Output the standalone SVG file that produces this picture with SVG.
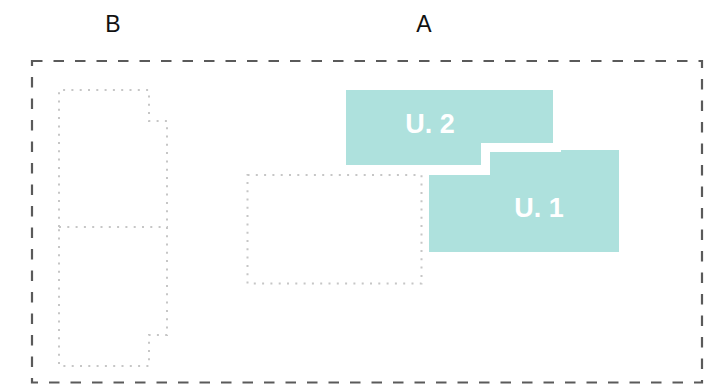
<svg xmlns="http://www.w3.org/2000/svg" width="723" height="385" viewBox="0 0 723 385">
  <style>
    .label { font-family: "Liberation Sans", Arial, sans-serif; font-size: 23px; fill: #111; }
    .unit { fill: #aee1dd; }
    .unit-text { font-family: "Liberation Sans", Arial, sans-serif; font-size: 27px; font-weight: bold; fill: #ffffff; }
    .plot { fill: none; stroke: #5a5a5a; stroke-width: 2.2; stroke-dasharray: 10.5 11; }
    .room { fill: none; stroke: #c6c6c6; stroke-width: 2; stroke-dasharray: 2 6.3; }
  </style>

  <!-- column labels -->
  <text class="label" x="113" y="32" text-anchor="middle">B</text>
  <text class="label" x="424" y="32" text-anchor="middle">A</text>

  <!-- plot boundary -->
  <g id="plot">
    <rect class="plot" x="32" y="61" width="670" height="321.5"/>
  </g>

  <!-- section B rooms -->
  <g id="room-b-upper">
    <polyline class="room" points="59,227 59,90 149,90 149,121 167,121 167,227"/>
  </g>
  <g id="room-b-lower">
    <polyline class="room" points="59,227 167,227 167,335 149,335 149,366 59,366 59,227"/>
  </g>

  <!-- section A empty room -->
  <g id="room-a">
    <rect class="room" x="247.5" y="175" width="174" height="108.5"/>
  </g>

  <!-- units -->
  <g id="unit-2">
    <polygon class="unit" points="346,90 553,90 553,143 481,143 481,165 346,165"/>
    <text class="unit-text" x="430" y="133" text-anchor="middle">U. 2</text>
  </g>
  <g id="unit-1">
    <polygon class="unit" points="490,152 561,152 561,150 619,150 619,252 429,252 429,175 490,175"/>
    <text class="unit-text" x="539" y="217" text-anchor="middle">U. 1</text>
  </g>
</svg>
